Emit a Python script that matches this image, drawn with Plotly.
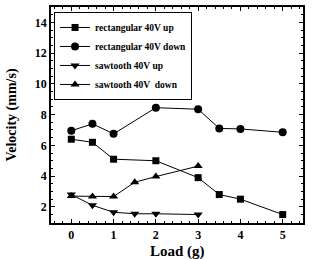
import plotly.graph_objects as go

x_rect = [0, 0.5, 1, 2, 3, 3.5, 4, 5]
rect_up = [6.4, 6.2, 5.1, 5.0, 3.9, 2.8, 2.5, 1.5]
rect_down = [6.95, 7.4, 6.75, 8.45, 8.35, 7.1, 7.07, 6.85]
x_saw = [0, 0.5, 1, 1.5, 2, 3]
saw_up = [2.8, 2.1, 1.65, 1.55, 1.55, 1.5]
saw_down = [2.7, 2.67, 2.67, 3.6, 3.97, 4.65]

names = ["rectangular 40V up", "rectangular 40V down", "sawtooth 40V up", "sawtooth 40V  down"]
x_title = "Load (g)"
y_title = "Velocity (mm/s)"
font_fam = "Liberation Serif"

fig = go.Figure()
series = [
    (x_rect, rect_up, "square", names[0], 7),
    (x_rect, rect_down, "circle", names[1], 8),
    (x_saw, saw_up, "triangle-down", names[2], 8),
    (x_saw, saw_down, "triangle-up", names[3], 8),
]
for xs, ys, sym, nm, sz in series:
    fig.add_trace(go.Scatter(
        x=xs, y=ys, name=nm, mode="lines+markers",
        line=dict(color="black", width=1),
        marker=dict(symbol=sym, size=sz, color="black"),
    ))

axis_common = dict(
    showline=True, linecolor="black", linewidth=1.5, mirror="ticks",
    ticks="inside", ticklen=4, tickcolor="black", showgrid=False, zeroline=False,
    automargin=False,
    tickfont=dict(family=font_fam, size=12, color="black", weight="bold"),
    minor=dict(ticks="inside", ticklen=2, tickcolor="black"),
)
fig.update_xaxes(range=[-0.48, 5.48], dtick=1, **axis_common)
fig.update_yaxes(range=[0.95, 15.0], dtick=2, tick0=0, **axis_common,
                 title=dict(text="<b>" + y_title + "</b>", font=dict(family=font_fam, size=14, color="black")))

fig.add_annotation(text="<b>" + x_title + "</b>", xref="paper", yref="paper",
                   x=0.5, y=0, yanchor="middle", yshift=-28, showarrow=False,
                   font=dict(family=font_fam, size=15, color="black"))

fig.update_layout(
    width=315, height=259,
    margin=dict(l=51, r=12, t=7, b=36, autoexpand=False),
    plot_bgcolor="white", paper_bgcolor="white",
    showlegend=True,
    legend=dict(x=0.012, y=0.977, xanchor="left", yanchor="top",
                bordercolor="black", borderwidth=1, bgcolor="white",
                font=dict(family=font_fam, size=9.5, color="black", weight="bold"),
                itemwidth=30, tracegroupgap=0),
)
fig.write_html("out.html", config={"displayModeBar": False},
               post_script="document.body.style.margin='0';")
